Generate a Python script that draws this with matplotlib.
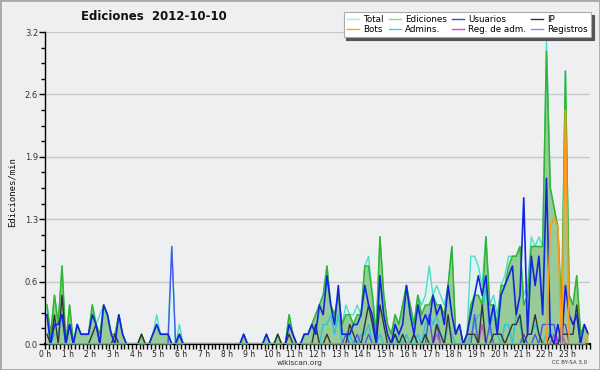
import matplotlib
matplotlib.use('Agg')
import matplotlib.pyplot as plt
import numpy as np
from matplotlib.patches import Rectangle
from matplotlib.lines import Line2D

# 10-minute bins, values in edits per minute
bin_minutes = 10

total = [
    0.4, 0.1, 0.5, 0.2, 0.8, 0.0,  0.4, 0.0, 0.2, 0.1, 0.1, 0.1,
    0.4, 0.2, 0.3, 0.4, 0.3, 0.1,  0.1, 0.3, 0.1, 0.0, 0.0, 0.0,
    0.0, 0.1, 0.0, 0.0, 0.1, 0.3,  0.1, 0.1, 0.1, 1.0, 0.0, 0.2,
    0.0, 0.0, 0.0, 0.0, 0.0, 0.0,  0.0, 0.0, 0.0, 0.0, 0.0, 0.0,
    0.0, 0.0, 0.0, 0.0, 0.1, 0.0,  0.0, 0.0, 0.0, 0.0, 0.1, 0.0,
    0.0, 0.1, 0.0, 0.0, 0.3, 0.1,  0.0, 0.0, 0.1, 0.1, 0.2, 0.3,
    0.4, 0.5, 0.8, 0.4, 0.3, 0.5,  0.2, 0.4, 0.3, 0.3, 0.4, 0.3,
    0.8, 0.9, 0.5, 0.1, 1.1, 0.5,  0.2, 0.1, 0.3, 0.2, 0.4, 0.6,
    0.4, 0.2, 0.5, 0.4, 0.5, 0.8,  0.5, 0.6, 0.5, 0.4, 0.6, 1.0,
    0.1, 0.2, 0.0, 0.1, 0.9, 0.9,  0.8, 0.6, 1.1, 0.4, 0.5, 0.3,
    0.6, 0.7, 0.9, 0.9, 0.9, 1.0,  0.5, 0.6, 1.1, 1.0, 1.1, 1.0,
    3.1, 1.6, 1.4, 1.2, 0.3, 2.8,  0.5, 0.4, 0.7, 0.1, 0.2, 0.1,
]

ediciones = [
    0.4, 0.1, 0.5, 0.2, 0.8, 0.0,  0.4, 0.0, 0.2, 0.1, 0.1, 0.1,
    0.4, 0.2, 0.1, 0.4, 0.3, 0.1,  0.1, 0.3, 0.1, 0.0, 0.0, 0.0,
    0.0, 0.1, 0.0, 0.0, 0.1, 0.2,  0.1, 0.1, 0.1, 0.0, 0.0, 0.1,
    0.0, 0.0, 0.0, 0.0, 0.0, 0.0,  0.0, 0.0, 0.0, 0.0, 0.0, 0.0,
    0.0, 0.0, 0.0, 0.0, 0.1, 0.0,  0.0, 0.0, 0.0, 0.0, 0.1, 0.0,
    0.0, 0.1, 0.0, 0.0, 0.3, 0.1,  0.0, 0.0, 0.1, 0.1, 0.2, 0.3,
    0.4, 0.5, 0.8, 0.4, 0.3, 0.5,  0.2, 0.3, 0.3, 0.2, 0.3, 0.3,
    0.8, 0.8, 0.5, 0.1, 1.1, 0.5,  0.2, 0.1, 0.3, 0.2, 0.4, 0.6,
    0.4, 0.2, 0.5, 0.3, 0.4, 0.4,  0.5, 0.4, 0.4, 0.3, 0.6, 1.0,
    0.1, 0.2, 0.0, 0.1, 0.4, 0.5,  0.5, 0.4, 1.1, 0.4, 0.4, 0.2,
    0.6, 0.6, 0.8, 0.9, 0.9, 1.0,  0.4, 0.5, 1.0, 1.0, 1.0, 1.0,
    3.0, 1.6, 1.4, 1.2, 0.3, 2.8,  0.5, 0.4, 0.7, 0.1, 0.2, 0.1,
]

usuarios = [
    0.3, 0.0, 0.2, 0.2, 0.3, 0.0,  0.2, 0.0, 0.2, 0.1, 0.1, 0.1,
    0.3, 0.2, 0.0, 0.4, 0.3, 0.1,  0.0, 0.3, 0.1, 0.0, 0.0, 0.0,
    0.0, 0.0, 0.0, 0.0, 0.1, 0.2,  0.1, 0.1, 0.1, 0.0, 0.0, 0.1,
    0.0, 0.0, 0.0, 0.0, 0.0, 0.0,  0.0, 0.0, 0.0, 0.0, 0.0, 0.0,
    0.0, 0.0, 0.0, 0.0, 0.1, 0.0,  0.0, 0.0, 0.0, 0.0, 0.1, 0.0,
    0.0, 0.0, 0.0, 0.0, 0.2, 0.1,  0.0, 0.0, 0.1, 0.1, 0.2, 0.1,
    0.4, 0.3, 0.7, 0.4, 0.2, 0.6,  0.1, 0.1, 0.1, 0.2, 0.2, 0.3,
    0.6, 0.4, 0.3, 0.0, 0.7, 0.3,  0.1, 0.0, 0.2, 0.1, 0.2, 0.6,
    0.3, 0.1, 0.4, 0.2, 0.3, 0.2,  0.5, 0.3, 0.4, 0.2, 0.6, 0.3,
    0.1, 0.2, 0.0, 0.1, 0.3, 0.5,  0.7, 0.5, 0.7, 0.2, 0.4, 0.1,
    0.5, 0.6, 0.7, 0.8, 0.3, 0.5,  1.5, 0.1, 0.9, 0.6, 0.9, 0.3,
    1.7, 0.1, 0.0, 0.2, 0.0, 0.6,  0.3, 0.2, 0.3, 0.0, 0.2, 0.1,
]

ip = [
    0.1, 0.0, 0.3, 0.0, 0.5, 0.0,  0.2, 0.0, 0.0, 0.0, 0.0, 0.0,
    0.1, 0.2, 0.0, 0.0, 0.0, 0.0,  0.1, 0.0, 0.0, 0.0, 0.0, 0.0,
    0.0, 0.1, 0.0, 0.0, 0.0, 0.0,  0.0, 0.0, 0.0, 0.0, 0.0, 0.0,
    0.0, 0.0, 0.0, 0.0, 0.0, 0.0,  0.0, 0.0, 0.0, 0.0, 0.0, 0.0,
    0.0, 0.0, 0.0, 0.0, 0.0, 0.0,  0.0, 0.0, 0.0, 0.0, 0.0, 0.0,
    0.0, 0.1, 0.0, 0.0, 0.1, 0.0,  0.0, 0.0, 0.0, 0.0, 0.0, 0.2,
    0.0, 0.0, 0.1, 0.0, 0.0, 0.0,  0.0, 0.0, 0.2, 0.1, 0.0, 0.0,
    0.2, 0.4, 0.2, 0.0, 0.4, 0.2,  0.0, 0.0, 0.1, 0.0, 0.1, 0.0,
    0.0, 0.1, 0.0, 0.0, 0.1, 0.0,  0.0, 0.2, 0.1, 0.0, 0.3, 0.0,
    0.0, 0.0, 0.0, 0.1, 0.1, 0.1,  0.0, 0.4, 0.0, 0.0, 0.1, 0.1,
    0.1, 0.0, 0.1, 0.2, 0.2, 0.3,  0.0, 0.1, 0.1, 0.3, 0.1, 0.0,
    0.0, 0.1, 0.0, 0.0, 0.1, 0.1,  0.1, 0.1, 0.4, 0.0, 0.0, 0.0,
]

bots = [0.0] * 133 + [1.2, 1.3, 1.2, 0.0, 2.4, 0.0, 0.0, 0.0, 0.0, 0.0, 0.1]

admins = [
    0.0, 0.0, 0.1, 0.1, 0.3, 0.0,  0.0, 0.0, 0.0, 0.0, 0.0, 0.0,
    0.0, 0.0, 0.0, 0.0, 0.0, 0.0,  0.0, 0.0, 0.0, 0.0, 0.0, 0.0,
    0.0, 0.0, 0.0, 0.0, 0.0, 0.0,  0.0, 0.0, 0.0, 0.0, 0.0, 0.0,
    0.0, 0.0, 0.0, 0.0, 0.0, 0.0,  0.0, 0.0, 0.0, 0.0, 0.0, 0.0,
    0.0, 0.0, 0.0, 0.0, 0.0, 0.0,  0.0, 0.0, 0.0, 0.0, 0.0, 0.0,
    0.0, 0.0, 0.0, 0.0, 0.0, 0.0,  0.0, 0.0, 0.0, 0.0, 0.0, 0.0,
    0.0, 0.2, 0.2, 0.3, 0.1, 0.3,  0.0, 0.0, 0.1, 0.0, 0.0, 0.1,
    0.1, 0.2, 0.0, 0.0, 0.1, 0.0,  0.0, 0.0, 0.0, 0.1, 0.0, 0.1,
    0.0, 0.0, 0.1, 0.0, 0.2, 0.3,  0.2, 0.3, 0.1, 0.0, 0.2, 0.1,
    0.0, 0.0, 0.0, 0.0, 0.1, 0.2,  0.3, 0.3, 0.6, 0.1, 0.4, 0.1,
    0.0, 0.2, 0.2, 0.0, 0.3, 0.2,  0.0, 0.1, 0.1, 0.2, 0.1, 0.0,
    0.1, 0.1, 0.1, 0.0, 0.1, 0.0,  0.0, 0.0, 0.0, 0.0, 0.0, 0.0,
]

reg_adm = [0.0] * 144
for idx, val in [(103, 0.1), (115, 0.2), (134, 0.1), (136, 0.1)]:
    reg_adm[idx] = val

registros = [0.0] * 144
for idx, val in [(33, 1.0), (35, 0.1), (79, 0.1), (82, 0.1), (85, 0.1),
                 (92, 0.1), (97, 0.1), (101, 0.3), (103, 0.2), (113, 0.3),
                 (117, 0.2), (126, 0.1), (129, 0.1), (131, 0.2), (132, 0.2),
                 (133, 0.2), (134, 0.2), (136, 0.2), (137, 0.2)]:
    registros[idx] = val

hour_labels = [f"{h} h" for h in range(24)]
ytick_vals = [0.0, 0.64, 1.28, 1.92, 2.56, 3.2]

hours = (np.arange(len(total)) * bin_minutes + bin_minutes / 2) / 60.0

BG = '#eeeff0'
fig = plt.figure(figsize=(6, 3.7), dpi=100)
fig.patch.set_facecolor(BG)
ax = fig.add_axes([45 / 600, 26 / 370, 545 / 600, 312 / 370])
ax.set_facecolor(BG)
ax.set_xlim(0, 24)
ax.set_ylim(0, 3.2)

c_total_fill, c_total = '#dcf4ee', '#4fdccc'
c_ed_fill, c_ed = '#97cb98', '#2fb52f'
c_users, c_ip, c_bots = '#1226e0', '#333333', '#ff9a1a'
c_admins, c_regadm, c_reg = '#2ec4dc', '#cc44dd', '#4c56f0'

ax.fill_between(hours, total, color=c_total_fill, lw=0, zorder=2)
ax.plot(hours, total, color=c_total, lw=1, zorder=3)
ax.fill_between(hours, ediciones, color=c_ed_fill, lw=0, zorder=3)
ax.plot(hours, ediciones, color=c_ed, lw=1.1, zorder=4)
ax.plot(hours, admins, color=c_admins, lw=1, zorder=5)
ax.plot(hours, registros, color=c_reg, lw=1, zorder=5)
ax.plot(hours, reg_adm, color=c_regadm, lw=1, zorder=5)
ax.plot(hours, ip, color=c_ip, lw=1, zorder=6)
ax.plot(hours, usuarios, color=c_users, lw=1.2, zorder=7)
ax.plot(hours, bots, color=c_bots, lw=1.2, zorder=8)

ax.yaxis.grid(True, color='#c8c8c8', lw=1)
ax.set_axisbelow(True)
for s in ['top', 'right']:
    ax.spines[s].set_visible(False)
ax.spines['left'].set_linewidth(1)
ax.spines['bottom'].set_linewidth(1.6)

ax.set_yticks(ytick_vals)
ax.set_yticklabels([f"{v:.1f}" for v in ytick_vals])
ax.set_yticks(np.arange(0, 3.21, 0.16), minor=True)
ax.set_xticks(range(24))
ax.set_xticklabels(hour_labels)
ax.set_xticks(np.arange(0, 24.01, 1 / 6), minor=True)
ax.tick_params(axis='y', which='major', length=4, width=1, labelsize=6, pad=1,
               colors='black', labelcolor='#333333')
ax.tick_params(axis='y', which='minor', length=3, width=1)
ax.tick_params(axis='x', which='both', length=3.5, width=1, labelsize=5.5, pad=0.5,
               labelcolor='#222222')

fig.text(154 / 600, 1 - 16 / 370, 'Ediciones  2012-10-10', ha='center', va='center',
         fontsize=8.5, weight='bold', color='#111111')
fig.text(12 / 600, 1 - 192 / 370, 'Ediciones/min', rotation=90, family='DejaVu Sans Mono',
         fontsize=6.5, ha='center', va='center', color='#111111')
fig.text(300 / 600, 1 - 363 / 370, 'wikiscan.org', fontsize=5.3, color='#333333',
         ha='center', va='center')
fig.text(587 / 600, 1 - 362 / 370, 'CC BY-SA 3.0', fontsize=4, color='#333333',
         ha='right', va='center')

labels = ['Total', 'Bots', 'Ediciones', 'Admins.', 'Usuarios', 'Reg. de adm.', 'IP', 'Registros']
colors = ['#a8ece0', '#ffa030', '#88dd88', '#44ccdd', '#4444dd', '#dd44dd', '#333333', '#8888ff']
handles = [Line2D([], [], color=c, lw=1) for c in colors]
leg = fig.legend(handles, labels, ncol=4, loc='upper right',
                 bbox_to_anchor=(591 / 600, 1 - 12 / 370), borderaxespad=0,
                 fontsize=6.3, handlelength=1.4, handletextpad=0.45, columnspacing=0.6,
                 labelspacing=0.1, borderpad=0.35, fancybox=False, framealpha=1,
                 edgecolor='#aaaaaa', facecolor='white',
                 shadow={'color': '#555555', 'alpha': 1})
leg.get_frame().set_linewidth(0.8)

fig.patches.append(Rectangle((0, 0), 1, 1, transform=fig.transFigure, fill=False,
                             edgecolor='#a8a8a8', lw=2))

fig.savefig('out.png', dpi=100, facecolor=BG)
